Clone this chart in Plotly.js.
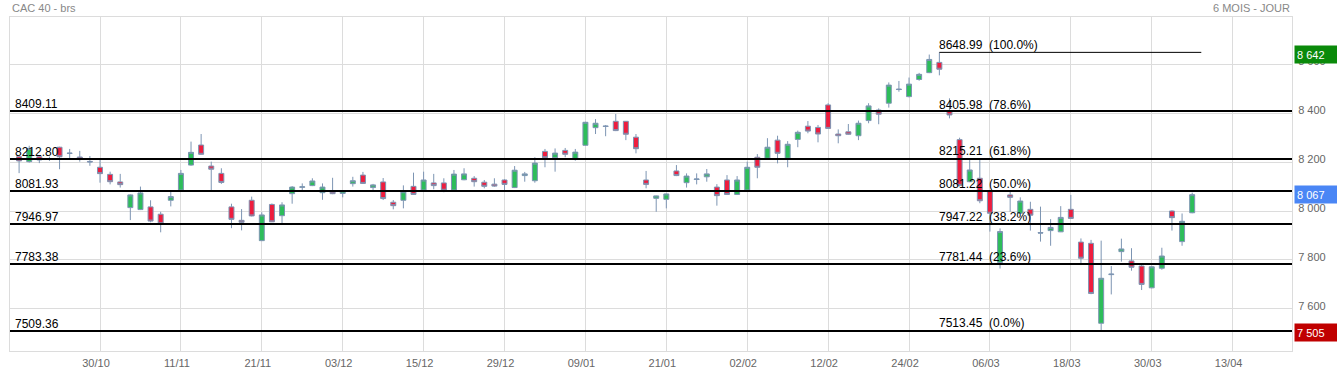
<!DOCTYPE html>
<html>
<head>
<meta charset="utf-8">
<script src="https://cdn.plot.ly/plotly-3.0.1.min.js"></script>
<style>html,body{margin:0;padding:0;background:#fff;}#chart{width:1337px;height:372px;}</style>
</head>
<body>
<div id="chart"></div>
<script>
// Trading days (index = position on the axis)
const days = ["20/10","21/10","22/10","23/10","24/10","27/10","28/10","29/10","30/10","31/10",
"03/11","04/11","05/11","06/11","07/11","10/11","11/11","12/11","13/11","14/11",
"17/11","18/11","19/11","20/11","21/11","24/11","25/11","26/11","27/11","28/11",
"01/12","02/12","03/12","04/12","05/12","08/12","09/12","10/12","11/12","12/12",
"15/12","16/12","17/12","18/12","19/12","22/12","23/12","24/12","29/12","30/12",
"31/12","02/01","05/01","06/01","07/01","08/01","09/01","12/01","13/01","14/01",
"15/01","16/01","19/01","20/01","21/01","22/01","23/01","26/01","27/01","28/01",
"29/01","30/01","02/02","03/02","04/02","05/02","06/02","09/02","10/02","11/02",
"12/02","13/02","16/02","17/02","18/02","19/02","20/02","23/02","24/02","25/02",
"26/02","27/02","02/03","03/03","04/03","05/03","06/03","09/03","10/03","11/03",
"12/03","13/03","16/03","17/03","18/03","19/03","20/03","23/03","24/03","25/03",
"26/03","27/03","30/03","31/03","01/04","02/04","07/04","08/04","09/04","10/04","13/04"];

const open = [8222,8202,8222,8214,8261,8237,8221,8203,8179,8150,
8119,8014,8006,8017,7987,8044,8086,8188,8270,8184,
8154,8017,7962,8044,7879,8027,7981,8071,8097,8104,
8075,8081,8072,8112,8147,8096,8119,8036,8044,8101,
8086,8115,8115,8086,8128,8134,8118,8110,8127,8096,
8145,8124,8244,8218,8248,8215,8269,8341,8348,8367,
8367,8302,8127,8052,8048,8164,8116,8129,8140,8098,
8127,8068,8086,8220,8216,8290,8216,8293,8347,8342,
8434,8315,8324,8308,8370,8413,8441,8499,8468,8538,
8566,8608,8409,8292,8120,8134,8083,7790,8066,7991,
8007,7912,7920,7915,8007,7873,7868,7541,7740,7834,
7796,7775,7686,7766,8000,7875,7993];
const high = [8225,8267,8226,8222,8263,8254,8246,8225,8213,8161,
8152,8068,8100,8044,7997,8079,8168,8284,8315,8202,
8175,8030,8008,8059,7995,8031,8036,8102,8113,8134,
8113,8136,8084,8140,8160,8111,8135,8045,8105,8157,
8161,8152,8134,8168,8175,8143,8127,8134,8130,8184,
8160,8220,8254,8256,8258,8254,8365,8376,8352,8397,
8368,8315,8164,8063,8072,8188,8154,8154,8172,8110,
8147,8143,8202,8233,8298,8308,8286,8329,8368,8352,
8441,8334,8356,8370,8441,8420,8526,8532,8546,8565,
8640,8648.99,8461,8300,8209,8209,8085,7929,8086,8056,
8038,8018,7967,8020,8066,7888,7882,7879,7775,7887,
7848,7779,7776,7850,8003,7990,8075];
const low = [8155,8198,8196,8205,8171,8209,8202,8185,8116,8109,
8096,7963,8004,7954,7913,8019,8084,8185,8230,8086,
8111,7930,7921,7978,7877,7955,7951,8030,8086,8102,
8046,8069,8056,8100,8111,8086,8045,8007,8011,8066,
8085,8089,8077,8085,8126,8100,8093,8099,8086,8094,
8120,8116,8179,8161,8220,8206,8267,8315,8306,8327,
8290,8236,8093,7997,8011,8143,8096,8109,8120,8022,
8066,8066,8085,8134,8209,8195,8179,8261,8318,8281,
8336,8277,8312,8290,8359,8355,8423,8488,8465,8533,
8564,8555,8379,8100,8118,8032,7916,7765,7997,7989,
7920,7875,7858,7914,7968,7779,7660,7513.45,7659,7793,
7756,7677,7684,7760,7920,7858,7991];
const close = [8205,8256,8209,8211,8222,8236,8216,8201,8153,8120,
8108,8066,8074,7959,7948,8059,8154,8240,8232,8171,
8117,7966,7954,7980,7984,7956,8025,8098,8099,8123,
8098,8071,8082,8124,8113,8107,8051,8022,8079,8068,
8127,8104,8085,8151,8152,8120,8101,8102,8109,8167,
8152,8196,8218,8237,8232,8241,8363,8359,8346,8329,
8314,8255,8109,8062,8070,8145,8143,8131,8152,8063,
8068,8127,8179,8179,8261,8236,8273,8322,8327,8315,
8338,8308,8314,8359,8430,8396,8515,8497,8519,8559,
8620,8580,8393,8105,8168,8042,7991,7916,8056,8041,
7983,7910,7933,7974,7970,7807,7663,7725,7742,7845,
7770,7700,7772,7816,7973,7958,8067];

// Horizontal support/resistance levels (left labels)
const levels = [8409.11, 8212.80, 8081.93, 7946.97, 7783.38, 7509.36];
const levelLabels = ["8409.11","8212.80","8081.93","7946.97","7783.38","7509.36"];

// Fibonacci retracement levels (right labels)
const fibValues = [8648.99, 8405.98, 8215.21, 8081.22, 7947.22, 7781.44, 7513.45];
const fibPct = ["100.0%","78.6%","61.8%","50.0%","38.2%","23.6%","0.0%"];
const fibStartDay = "27/02";
const fibEndDay = "08/04";

// Axis ticks
const xTickDays = ["30/10","11/11","21/11","03/12","15/12","29/12","09/01","21/01","02/02","12/02","24/02","06/03","18/03","30/03","13/04"];
const yTicks = [7600, 7800, 8000, 8200, 8400, 8600];
const yTickText = ["7 600","7 800","8 000","8 200","8 400","8 600"];

// Price tags on the right axis
const tagValues = [8642, 8067, 7505];
const tagText = ["8 642","8 067","7 505"];
const tagColors = ["#0a8a0a", "#4a86f5", "#c00000"];

const FONT = "Liberation Sans, Arial, sans-serif";
const xIdx = close.map((_, i) => i);

const trace = {
  type: "candlestick",
  x: xIdx, open: open, high: high, low: low, close: close,
  increasing: {fillcolor: "#2dbd5a", line: {color: "#7d95b3", width: 1}},
  decreasing: {fillcolor: "#ee1d3e", line: {color: "#7d95b3", width: 1}},
  whiskerwidth: 0,
  hoverinfo: "none",
  showlegend: false
};

const shapes = [];
const annotations = [];
levels.forEach((v, i) => {
  shapes.push({type: "line", xref: "paper", x0: 0, x1: 1, yref: "y", y0: v, y1: v,
    line: {color: "#000", width: 2}});
  annotations.push({xref: "paper", x: 0, xanchor: "left", xshift: 3, yref: "y", y: v,
    yanchor: "bottom", yshift: -2, text: levelLabels[i], showarrow: false,
    font: {family: FONT, size: 12, color: "#000"}});
});
const fx0 = days.indexOf(fibStartDay);
const fx1 = days.indexOf(fibEndDay) - 0.1;
fibValues.forEach((v, i) => {
  if (i === 0) {
    shapes.push({type: "line", xref: "x", x0: fx0, x1: fx1, yref: "y", y0: v, y1: v,
      line: {color: "#000", width: 1}});
  }
  annotations.push({xref: "x", x: fx0, xanchor: "left", xshift: -2, yref: "y", y: v,
    yanchor: "bottom", yshift: -2, text: v.toFixed(2) + "\u00a0\u00a0(" + fibPct[i] + ")",
    showarrow: false, font: {family: FONT, size: 12, color: "#000"}});
});
tagValues.forEach((v, i) => {
  annotations.push({xref: "paper", x: 1, xanchor: "left", xshift: 2, yref: "y", y: v,
    yanchor: "middle", text: tagText[i], showarrow: false, align: "left",
    width: 39, height: 13, borderpad: 2, bgcolor: tagColors[i],
    font: {family: FONT, size: 11, color: "#fff"}});
});
annotations.push({xref: "paper", x: 0, xanchor: "left", yref: "paper", y: 1, yanchor: "bottom",
  yshift: 1, text: "CAC 40 - brs", showarrow: false, font: {family: FONT, size: 11, color: "#888"}});
annotations.push({xref: "paper", x: 1, xanchor: "right", yref: "paper", y: 1, yanchor: "bottom",
  yshift: 1, text: "6 MOIS - JOUR", showarrow: false, font: {family: FONT, size: 11, color: "#888"}});

const layout = {
  width: 1337, height: 372,
  margin: {l: 10, r: 45, t: 17, b: 21, pad: 0},
  paper_bgcolor: "#fff", plot_bgcolor: "#fff",
  font: {family: FONT, size: 11, color: "#666"},
  xaxis: {
    type: "linear", range: [-0.9, 125.87],
    tickmode: "array", tickvals: xTickDays.map(d => days.indexOf(d)), ticktext: xTickDays,
    showgrid: true, gridcolor: "#dcdcdc", gridwidth: 1,
    showline: true, linecolor: "#dcdcdc", mirror: true, zeroline: false,
    ticks: "", ticklabelstandoff: 2, ticklabelshift: -4,
    rangeslider: {visible: false}, fixedrange: true,
    tickfont: {family: FONT, size: 11, color: "#666"}
  },
  yaxis: {
    side: "right", range: [7427.6, 8793.6],
    tickmode: "array", tickvals: yTicks, ticktext: yTickText,
    showgrid: true, gridcolor: "#dcdcdc", gridwidth: 1,
    showline: true, linecolor: "#dcdcdc", mirror: true, zeroline: false,
    ticks: "", ticklabelstandoff: 3, ticklabelshift: -3, fixedrange: true,
    tickfont: {family: FONT, size: 11, color: "#666"}
  },
  shapes: shapes,
  annotations: annotations,
  showlegend: false
};

Plotly.newPlot("chart", [trace], layout, {staticPlot: true, displayModeBar: false});
</script>
</body>
</html>
